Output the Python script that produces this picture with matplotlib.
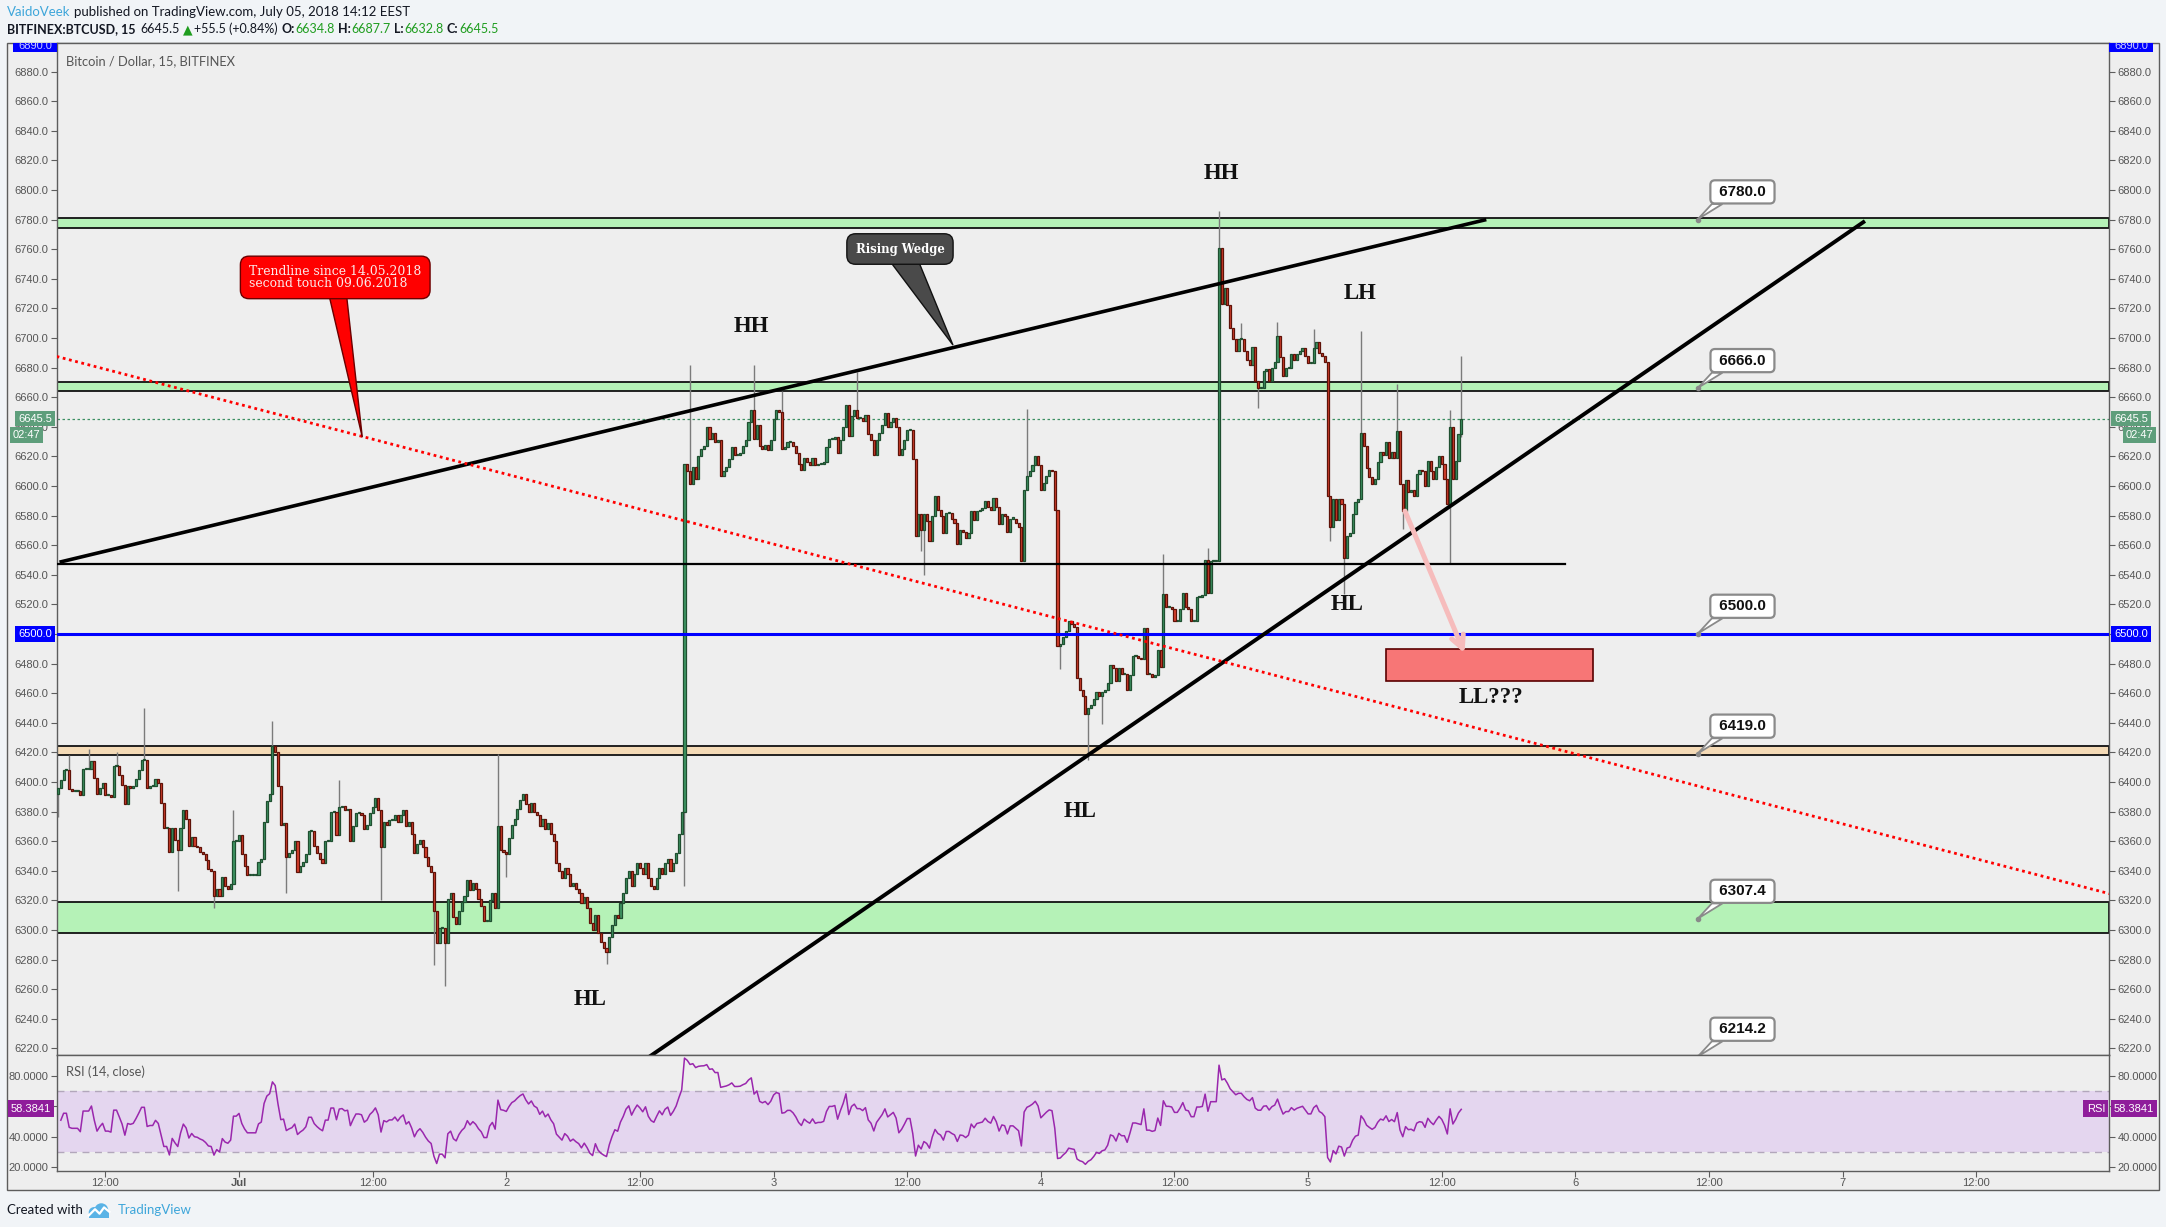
import numpy as np
import matplotlib
matplotlib.use("Agg")
import matplotlib.pyplot as plt
from matplotlib.patches import Rectangle, Polygon, Circle
from matplotlib.transforms import Bbox, TransformedBbox

W, H = 2166, 1227

# BITFINEX:BTCUSD, 15 min bars. x axis = hours counted from Jun 30 00:00
first_bar = 7.75
first_open = 6392.0

closes = [
    # Jun 30 morning -> Jul 1
    6396, 6401, 6408, 6408, 6395, 6394, 6394, 6394, 6391, 6409,
    6409, 6409, 6414, 6403, 6392, 6396, 6399, 6391, 6391, 6390,
    6411, 6411, 6405, 6398, 6385, 6397, 6396, 6397, 6402, 6408,
    6415, 6415, 6396, 6397, 6397, 6402, 6399, 6386, 6369, 6369,
    6353, 6369, 6361, 6354, 6369, 6381, 6375, 6357, 6363, 6357,
    6356, 6353, 6351, 6347, 6341, 6340, 6323, 6328, 6323, 6336,
    6330, 6328, 6331, 6360, 6360, 6364, 6351, 6343, 6337, 6337,
    6337, 6337, 6346, 6348, 6373, 6387, 6392, 6424, 6420, 6397,
    6371, 6372, 6349, 6352, 6354, 6360, 6339, 6343, 6346, 6351,
    6367, 6367, 6357, 6352, 6348, 6345, 6360, 6360, 6380, 6380,
    6364, 6383, 6384, 6381, 6382, 6360, 6370, 6379, 6379, 6378,
    6368, 6371, 6379, 6383, 6389, 6381, 6356, 6373, 6371, 6374,
    6374, 6378, 6373, 6378, 6381, 6370, 6373, 6365, 6352, 6358,
    6361, 6356, 6349, 6343, 6339, 6313, 6291, 6301, 6301, 6291,
    6321, 6325, 6309, 6304, 6313, 6319, 6323, 6334, 6327, 6332,
    6328, 6321, 6316, 6306, 6306, 6320, 6325, 6315, 6370, 6354,
    6353, 6351, 6362, 6371,
    # Jul 2 until the breakout
    6375, 6382, 6388, 6392, 6385, 6380, 6386,
    6380, 6378, 6370, 6375, 6368, 6372, 6365, 6360,
    6345, 6340, 6335, 6342, 6338, 6330,
    6332, 6328, 6325, 6318, 6322, 6315,
    6305, 6300, 6310, 6298, 6292, 6288,
    6285, 6295, 6303, 6310, 6308,
    6318, 6325, 6335, 6340, 6330, 6338,
    6345, 6342, 6338, 6345, 6335, 6330,
    6328, 6335, 6342, 6338, 6345, 6348,
    6340, 6345, 6352, 6365, 6380,
    # breakout -> Jul 4 morning
    6615, 6610, 6601, 6613, 6605, 6620, 6625, 6627, 6640, 6632,
    6636, 6630, 6631, 6607, 6610, 6613, 6618, 6626, 6621, 6621,
    6622, 6627, 6631, 6643, 6651, 6632, 6641, 6627, 6625, 6628,
    6624, 6631, 6645, 6651, 6650, 6625, 6626, 6630, 6630, 6627,
    6622, 6615, 6611, 6619, 6616, 6614, 6619, 6614, 6615, 6615,
    6616, 6626, 6632, 6632, 6633, 6622, 6631, 6640, 6655, 6634,
    6647, 6651, 6646, 6646, 6644, 6648, 6635, 6631, 6621, 6631,
    6636, 6641, 6649, 6640, 6643, 6646, 6640, 6621, 6625, 6631,
    6638, 6638, 6618, 6566, 6581, 6570, 6581, 6576, 6563, 6580,
    6593, 6584, 6580, 6568, 6582, 6582, 6578, 6575, 6561, 6570,
    6569, 6565, 6568, 6583, 6577, 6583, 6584, 6585, 6590, 6586,
    6584, 6592, 6586, 6574, 6581, 6580, 6569, 6578, 6578, 6575, 6572,
    # Jul 4: drop to 6420 and spike to 6760
    6549, 6597, 6607, 6610, 6614, 6620, 6614, 6597, 6602, 6607,
    6611, 6610, 6584, 6492, 6493, 6498, 6502, 6509, 6507, 6505,
    6470, 6462, 6458, 6446, 6450, 6452, 6456, 6461, 6458, 6461,
    6462, 6467, 6479, 6477, 6468, 6477, 6473, 6473, 6462, 6472,
    6485, 6485, 6484, 6483, 6504, 6473, 6473, 6471, 6472, 6489,
    6478, 6527, 6518, 6518, 6517, 6509, 6509, 6517, 6528, 6518,
    6517, 6509, 6509, 6525, 6525, 6526, 6550, 6528, 6549, 6549,
    6549, 6761, 6723, 6734, 6722, 6707, 6699, 6691, 6699,
    # Jul 4 evening -> Jul 5 13:45
    6699, 6691, 6685, 6682, 6694, 6671, 6666, 6666, 6678, 6679,
    6671, 6680, 6684, 6701, 6687, 6674, 6680, 6680, 6689, 6685,
    6689, 6691, 6693, 6688, 6683, 6683, 6693, 6697, 6690, 6688,
    6684, 6593, 6572, 6591, 6577, 6591, 6588, 6551, 6566, 6568,
    6581, 6589, 6591, 6636, 6627, 6612, 6606, 6601, 6605, 6616,
    6623, 6621, 6630, 6619, 6623, 6619, 6637, 6601, 6583, 6604,
    6596, 6597, 6593, 6608, 6611, 6610, 6600, 6617, 6610, 6605,
    6613, 6620, 6615, 6605, 6588, 6640, 6605, 6617, 6634.8, 6645.5,
]

# long wicks (bar index, price)
wick_hi_idx = [4, 11, 21, 31, 63, 77, 101, 158, 227, 250, 260, 287, 348, 397,
               413, 417, 425, 438, 451, 468, 481, 500, 504]
wick_hi_val = [6418, 6422, 6420, 6450, 6381, 6441, 6401, 6419, 6682, 6682, 6664,
               6677, 6652, 6554, 6558, 6786, 6710, 6711, 6706, 6705, 6669, 6651,
               6687.7]
wick_lo_idx = [0, 43, 56, 82, 116, 135, 139, 161, 197, 225, 310, 311, 360, 370,
               375, 431, 457, 462, 483, 500, 504]
wick_lo_val = [6376, 6326, 6315, 6325, 6320, 6276, 6262, 6336, 6277, 6330, 6556,
               6540, 6476, 6415, 6439, 6653, 6563, 6527, 6571, 6548, 6632.8]

# drawn levels / zones
level_labels = [6780.0, 6666.0, 6500.0, 6419.0, 6307.4, 6214.2]
green_zone_lo = [6774, 6664, 6298]
green_zone_hi = [6781, 6670, 6319]
orange_zone = (6418, 6424)

pattern_labels = ["HH", "HH", "LH", "HL", "HL", "HL", "LL???"]
pattern_x = [112.2, 70.0, 124.7, 123.5, 99.5, 55.5, 136.4]
pattern_y = [6811, 6708, 6730, 6520, 6380, 6253, 6457]

day_ticks = [12, 24, 36, 48, 60, 72, 84, 96, 108, 120, 132, 144, 156, 168, 180]
day_labels = ["12:00", "Jul", "12:00", "2", "12:00", "3", "12:00", "4", "12:00",
              "5", "12:00", "6", "12:00", "7", "12:00"]

rsi_last = 58.3841

plt.rcParams['font.family'] = ['Liberation Sans', 'DejaVu Sans']

fig = plt.figure(figsize=(W / 100, H / 100), dpi=100)
fig.patch.set_facecolor('#f1f4f7')


def fx(px):
    return px / W


def fy(py):
    return 1 - py / H


# outer chart frame
fig.patches.append(Rectangle((fx(7), fy(1190)), (2159 - 7) / W, (1190 - 43) / H,
                             transform=fig.transFigure, fc='#eeeeee', ec='#5d5d5d',
                             lw=1, zorder=-5))

ax = fig.add_axes([fx(56.6), fy(1054.7), (2109.4 - 56.6) / W, (1054.7 - 43) / H])
rax = fig.add_axes([fx(56.6), fy(1171), (2109.4 - 56.6) / W, (1171 - 1054.7) / H],
                   sharex=ax)

for a in (ax, rax):
    a.set_facecolor('#eeeeee')
    for s in a.spines.values():
        s.set_color('#5d5d5d')
        s.set_linewidth(1)

ax.set_xlim(7.62, 191.95)
ax.set_ylim(6215.7, 6899.3)

# ---- candles
c = np.array(closes, dtype=float)
n = len(c)
x = first_bar + 0.25 * np.arange(n)
o = np.r_[first_open, c[:-1]]
hi = np.maximum(o, c)
lo = np.minimum(o, c)
hi[wick_hi_idx] = np.maximum(hi[wick_hi_idx], wick_hi_val)
lo[wick_lo_idx] = np.minimum(lo[wick_lo_idx], wick_lo_val)
up = c >= o

ax.vlines(x, lo, hi, color='#7b7b7b', lw=1, zorder=3)
body_lo = np.minimum(o, c)
body_h = np.maximum(np.abs(c - o), 0.7)
ax.bar(x[up], body_h[up], bottom=body_lo[up], width=0.19, color='#3f9563',
       edgecolor='#1f4f30', lw=0.9, zorder=4)
ax.bar(x[~up], body_h[~up], bottom=body_lo[~up], width=0.19, color='#d8412e',
       edgecolor='#5e1208', lw=0.9, zorder=4)

# ---- zones and lines
for zl, zh in zip(green_zone_lo, green_zone_hi):
    ax.axhspan(zl, zh, fc='#b5f2b7', ec='#111111', lw=1.3, zorder=1)
ax.axhspan(orange_zone[0], orange_zone[1], fc='#f4dab6', ec='#111111', lw=1.3, zorder=1)

ax.axhline(6645.5, color='#3c8f62', lw=0.9, ls=(0, (2, 2)), zorder=2)
ax.axhline(6500, color='#0000ff', lw=2.2, zorder=5)
ax.plot([7.62, 143.1], [6547, 6547], color='black', lw=1.6, zorder=5)
ax.plot([7.88, 136.0], [6548.5, 6780], color='black', lw=2.6, zorder=5,
        solid_capstyle='butt')
ax.plot([59.04, 170.0], [6205, 6779], color='black', lw=2.8, zorder=5,
        solid_capstyle='butt')
ax.plot([7.62, 191.95], [6687.5, 6324.5], color='#ff0000', lw=2,
        ls=(0, (1, 1.3)), zorder=5)

ax.add_patch(Rectangle((126.95, 6468.3), 145.56 - 126.95, 6489.7 - 6468.3,
                       fc='#f77676', ec='#5a0000', lw=1.2, zorder=6))
ax.annotate('', xy=(134.04, 6487), xytext=(128.7, 6583),
            arrowprops=dict(arrowstyle='->,head_length=0.9,head_width=0.45',
                            color='#f6bcbc', lw=3.6, shrinkA=0, shrinkB=0),
            zorder=6)

for s, px_, py_ in zip(pattern_labels, pattern_x, pattern_y):
    ax.text(px_, py_, s, ha='center', va='center', family='Liberation Serif',
            fontweight='bold', fontsize=16.5, color='#111111', zorder=7)

# level callouts on the right
for L in level_labels:
    ax.add_patch(Polygon([(156.25, L + 10.5), (157.2, L + 10.5), (155.0, L + 0.3)],
                         closed=True, fc='white', ec='#8a8a8a', lw=1.3, zorder=8))
    ax.plot([155.0], [L], 'o', ms=3, color='#8a8a8a', zorder=8)
    ax.text(159.0, L + 18.7, ' %.1f ' % L, ha='center', va='center',
            fontsize=11, fontweight='bold', color='#111111', zorder=9,
            bbox=dict(boxstyle='round,pad=0.3', fc='white', ec='#8a8a8a', lw=1.6))

# Rising wedge callout
ax.add_patch(Polygon([(82.54, 6751), (85.06, 6751), (88.11, 6695.2)], closed=True,
                     fc='#4a4a4a', ec='#111111', lw=1, zorder=8))
ax.text(83.35, 6760.1, 'Rising Wedge', ha='center', va='center', color='white',
        fontsize=8.4, fontweight='bold', family='DejaVu Serif', zorder=9,
        bbox=dict(boxstyle='round,pad=0.75', fc='#4a4a4a', ec='#111111', lw=1))

# red trendline callout
ax.add_patch(Polygon([(32.11, 6728), (33.67, 6728), (35.07, 6632.9)], closed=True,
                     fc='#ff0000', ec='#6b0000', lw=1, zorder=8))
ax.text(24.9, 6740.9, 'Trendline since 14.05.2018\nsecond touch 09.06.2018',
        ha='left', va='center', color='#fbeaea', fontsize=8.9, family='DejaVu Serif',
        linespacing=0.92, zorder=9,
        bbox=dict(boxstyle='round,pad=0.7', fc='#ff0000', ec='#6b0000', lw=1))

ax.text((66 - 56.6) / 2052.8, 1 - (61 - 43) / 1011.7, 'Bitcoin / Dollar, 15, BITFINEX',
        transform=ax.transAxes, ha='left', va='center', fontsize=9.3, color='#555555',
        family=['Lato', 'DejaVu Sans'])

# ---- price axis
yt = np.arange(6220, 6881, 20)
ax.set_yticks(yt)
ax.set_yticklabels(['%.1f' % v for v in yt])
ax.tick_params(axis='y', left=True, right=True, labelleft=True, labelright=True,
               direction='out', length=4, color='#5d5d5d', labelsize=8,
               labelcolor='#555555', pad=2)
ax.tick_params(axis='x', bottom=False, labelbottom=False)

ytr = ax.get_yaxis_transform()
fr_l = (35 - 56.6) / 2052.8
fr_r = (2131 - 56.6) / 2052.8


def side_labels(a, y, txt, fc, tr):
    for fr in (fr_l, fr_r):
        a.text(fr, y, txt, transform=tr, ha='center', va='center', fontsize=8,
               color='white', clip_on=False, zorder=20,
               bbox=dict(boxstyle='square,pad=0.25', fc=fc, ec='none'))


side_labels(ax, 6500, '6500.0', '#0000ff', ytr)
side_labels(ax, 6645.5, '6645.5', '#5e9e7b', ytr)
ax.text((13 - 56.6) / 2052.8, 6634.6, '02:47', transform=ytr, ha='left', va='center',
        fontsize=8, color='white', clip_on=False, zorder=20,
        bbox=dict(boxstyle='square,pad=0.25', fc='#5e9e7b', ec='none'))
ax.text((2153 - 56.6) / 2052.8, 6634.6, '02:47', transform=ytr, ha='right',
        va='center', fontsize=8, color='white', clip_on=False, zorder=20,
        bbox=dict(boxstyle='square,pad=0.25', fc='#5e9e7b', ec='none'))

# clipped blue price tag at the top edge
for x0, x1 in ((13, 57), (2109, 2153)):
    fig.patches.append(Rectangle((fx(x0), fy(52)), (x1 - x0) / W, 9 / H,
                                 transform=fig.transFigure, fc='#0000ff', ec='none'))
    t = fig.text(fx((x0 + x1) / 2), fy(46), '6890.0', ha='center', va='center',
                 fontsize=8, color='#c8c8ff')
    t.set_clip_box(TransformedBbox(Bbox([[fx(x0), fy(52)], [fx(x1), fy(43)]]),
                                   fig.transFigure))
    t.set_clip_on(True)

# ---- RSI (14, close), Wilder smoothing seeded with the first 14 moves
delta = np.diff(c)
gain = np.clip(delta, 0, None)
loss = np.clip(-delta, 0, None)
rsi = np.full(n, np.nan)
ag = gain[:14].mean()
al = loss[:14].mean()
for k in range(1, n):
    ag = (ag * 13 + gain[k - 1]) / 14
    al = (al * 13 + loss[k - 1]) / 14
    rsi[k] = 100 - 100 / (1 + ag / al)

rax.set_ylim(17.6, 93.8)
rax.axhspan(30, 70, fc='#e4d6ef', ec='none', zorder=1)
rax.axhline(70, color='#b2a7bb', lw=1, ls=(0, (5, 4)), zorder=2)
rax.axhline(30, color='#b2a7bb', lw=1, ls=(0, (5, 4)), zorder=2)
rax.plot(x, rsi, color='#9a27ad', lw=1.1, zorder=3)
rax.text((66 - 56.6) / 2052.8, 0.85, 'RSI (14, close)', transform=rax.transAxes,
         ha='left', va='center', fontsize=9.3, color='#555555',
         family=['Lato', 'DejaVu Sans'])

rax.set_yticks([20, 40, 60, 80])
rax.set_yticklabels(['%.4f' % v for v in [20, 40, 60, 80]])
rax.tick_params(axis='y', left=True, right=True, labelleft=True, labelright=True,
                direction='out', length=4, color='#5d5d5d', labelsize=8,
                labelcolor='#555555', pad=2)
rtr = rax.get_yaxis_transform()
rax.text((31 - 56.6) / 2052.8, rsi_last, '%.4f' % rsi_last, transform=rtr,
         ha='center', va='center', fontsize=8, color='white', clip_on=False, zorder=20,
         bbox=dict(boxstyle='square,pad=0.3', fc='#8f1d9b', ec='none'))
rax.text((2134 - 56.6) / 2052.8, rsi_last, '%.4f' % rsi_last, transform=rtr,
         ha='center', va='center', fontsize=8, color='white', clip_on=False, zorder=20,
         bbox=dict(boxstyle='square,pad=0.3', fc='#8f1d9b', ec='none'))
rax.text((2105 - 56.6) / 2052.8, rsi_last, 'RSI', transform=rtr, ha='right',
         va='center', fontsize=8, color='white', clip_on=False, zorder=20,
         bbox=dict(boxstyle='square,pad=0.3', fc='#8f1d9b', ec='none'))

rax.set_xticks(day_ticks)
rax.set_xticklabels(day_labels)
for lbl in rax.get_xticklabels():
    if lbl.get_text() == 'Jul':
        lbl.set_fontweight('bold')
rax.tick_params(axis='x', direction='out', length=4, color='#5d5d5d', labelsize=8,
                labelcolor='#555555', pad=1)

# ---- header / footer
renderer = fig.canvas.get_renderer()


def text_run(x0, y0, parts, size):
    xx = x0
    for s, col, wt, gap in parts:
        t = fig.text(fx(xx), fy(y0), s, color=col, fontsize=size, fontweight=wt,
                     family=['Lato', 'DejaVu Sans'], ha='left', va='center')
        xx += t.get_window_extent(renderer=renderer).width + gap


dark = '#131722'
grn = '#1f9d1f'
text_run(7, 12, [('VaidoVeek', '#3ea6da', 'normal', 4),
                 ('published on TradingView.com, July 05, 2018 14:12 EEST', dark,
                  'normal', 0)], 9.5)
text_run(7, 29, [('BITFINEX:BTCUSD, 15', dark, 'bold', 5),
                 ('6645.5', dark, 'normal', 3),
                 ('\u25b2', grn, 'normal', 2),
                 ('+55.5 (+0.84%)', dark, 'normal', 3),
                 ('O:', dark, 'bold', 1), ('6634.8', grn, 'normal', 3),
                 ('H:', dark, 'bold', 1), ('6687.7', grn, 'normal', 3),
                 ('L:', dark, 'bold', 1), ('6632.8', grn, 'normal', 3),
                 ('C:', dark, 'bold', 1), ('6645.5', grn, 'normal', 0)], 9.0)

fig.text(fx(7), fy(1210), 'Created with', color=dark, fontsize=9.5,
         family=['Lato', 'DejaVu Sans'], ha='left', va='center')
fig.text(fx(118), fy(1210), 'TradingView', color='#3ea6da', fontsize=9.5,
         family=['Lato', 'DejaVu Sans'], ha='left', va='center')
lax = fig.add_axes([fx(86), fy(1220), 26 / W, 18 / H])
lax.set_xlim(0, 1.44)
lax.set_ylim(0, 1)
lax.axis('off')
for cc, rr in (((0.45, 0.42), 0.3), ((0.85, 0.55), 0.38)):
    lax.add_patch(Circle(cc, rr, fc='#5ab3e6', ec='none'))
lax.add_patch(Rectangle((0.15, 0.1), 1.1, 0.33, fc='#5ab3e6', ec='none'))
lax.plot([0.15, 0.5, 0.75, 1.0, 1.3], [0.25, 0.6, 0.35, 0.7, 0.45], color='white', lw=1.6)

fig.savefig('out.png', dpi=100, facecolor=fig.get_facecolor())
